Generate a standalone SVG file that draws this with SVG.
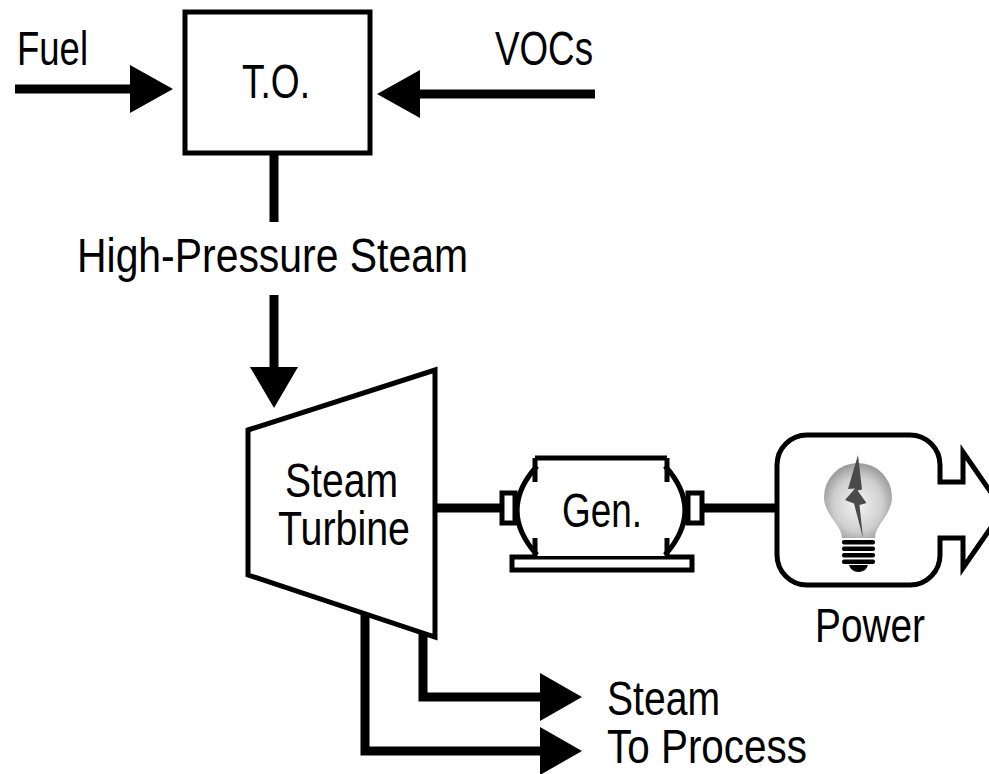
<svg xmlns="http://www.w3.org/2000/svg" width="989" height="774" viewBox="0 0 989 774">
<style>
.lbl{font-family:"Liberation Sans",Arial,sans-serif;font-size:48px;fill:#000}
.outline{fill:#fff;stroke:#000;stroke-width:5}
.flow{fill:none;stroke:#000;stroke-width:9}
.head{fill:#000;stroke:none}
.thin{fill:none;stroke:#000;stroke-width:5}
</style>
<defs>
<radialGradient id="glass" cx="50%" cy="55%" r="60%">
<stop offset="0" stop-color="#f4f4f4"/>
<stop offset="0.6" stop-color="#cfcfcf"/>
<stop offset="1" stop-color="#8a8a8a"/>
</radialGradient>
</defs>
<rect width="989" height="774" fill="#fff"/>

<g id="connectors">
<path class="flow" d="M15,89 H132"/>
<polygon class="head" points="130,65 173,89 130,113"/>
<path class="flow" d="M595,94 H418"/>
<polygon class="head" points="420,70 377,94 420,118"/>
<path class="flow" d="M274,155 V222"/>
<path class="flow" d="M274,295 V370"/>
<polygon class="head" points="250,367 298,367 274,408"/>
<path class="flow" d="M435,508 H503"/>
<path class="flow" d="M703,508 H778"/>
<path class="flow" d="M423,632 V697 H542"/>
<polygon class="head" points="540,673 582,697 540,721"/>
<path class="flow" d="M365,613 V751 H542"/>
<polygon class="head" points="540,727 582,751 540,775"/>
</g>

<g id="fuel-label"><text class="lbl" x="17" y="65" textLength="71" lengthAdjust="spacingAndGlyphs">Fuel</text></g>
<g id="vocs-label"><text class="lbl" x="495" y="65" textLength="98" lengthAdjust="spacingAndGlyphs">VOCs</text></g>

<g id="to">
<rect class="outline" x="185" y="12" width="185" height="141"/>
<text class="lbl" x="242" y="98" textLength="68" lengthAdjust="spacingAndGlyphs">T.O.</text>
</g>

<g id="hp-steam-label"><text class="lbl" x="77" y="272" textLength="391" lengthAdjust="spacingAndGlyphs">High-Pressure Steam</text></g>

<g id="turbine">
<polygon class="outline" points="248,430 435,370 435,637 248,575"/>
<text class="lbl" x="285" y="497" textLength="113" lengthAdjust="spacingAndGlyphs">Steam</text>
<text class="lbl" x="278" y="545" textLength="132" lengthAdjust="spacingAndGlyphs">Turbine</text>
</g>

<g id="generator">
<rect class="outline" x="512" y="557" width="180" height="13" stroke-width="4"/>
<path fill="#fff" stroke="none" d="M537,460 H665 Q705,510 665,556 H537 Q497,510 537,460 Z"/>
<path class="thin" d="M535,458 H667 M535,458 V482 M667,458 V482 M535,538 V557 M667,538 V557"/>
<path class="thin" d="M537,466 Q497,510 537,555 M665,466 Q705,510 665,555"/>
<rect class="outline" x="502" y="493" width="13" height="30" stroke-width="4"/>
<rect class="outline" x="688" y="493" width="14" height="30" stroke-width="4"/>
<text class="lbl" x="562" y="527" textLength="80" lengthAdjust="spacingAndGlyphs">Gen.</text>
</g>

<g id="power">
<path class="outline" d="M807,435 H910 A30,30 0 0 1 940,465 V482 H963 V452 L1003,510 L963,568 V538 H940 V555 A30,30 0 0 1 910,585 H807 A30,30 0 0 1 777,555 V465 A30,30 0 0 1 807,435 Z"/>
<path fill="url(#glass)" d="M842,538 C842,525 824,515 824,497 A34,34 0 1 1 892,497 C892,515 875,525 875,538 Z"/>
<polygon fill="#4a4a4a" points="858,455 848,489 855,488.5 845,500 854,503.5 863,538 859.5,505 866.5,503 857.5,490.5 862,489.5"/>
<rect x="842" y="540" width="33" height="4.5" rx="2" fill="#000"/>
<rect x="842" y="546.5" width="33" height="4.5" rx="2" fill="#000"/>
<rect x="842" y="553" width="33" height="4.5" rx="2" fill="#000"/>
<rect x="842" y="559.5" width="33" height="4.5" rx="2" fill="#000"/>
<path fill="#000" d="M849,565 H868 Q866,572 858.5,572 Q851,572 849,565 Z"/>
<text class="lbl" x="815" y="642" textLength="110" lengthAdjust="spacingAndGlyphs">Power</text>
</g>

<g id="steam-process-label">
<text class="lbl" x="607" y="715" textLength="113" lengthAdjust="spacingAndGlyphs">Steam</text>
<text class="lbl" x="607" y="763" textLength="200" lengthAdjust="spacingAndGlyphs">To Process</text>
</g>
</svg>
